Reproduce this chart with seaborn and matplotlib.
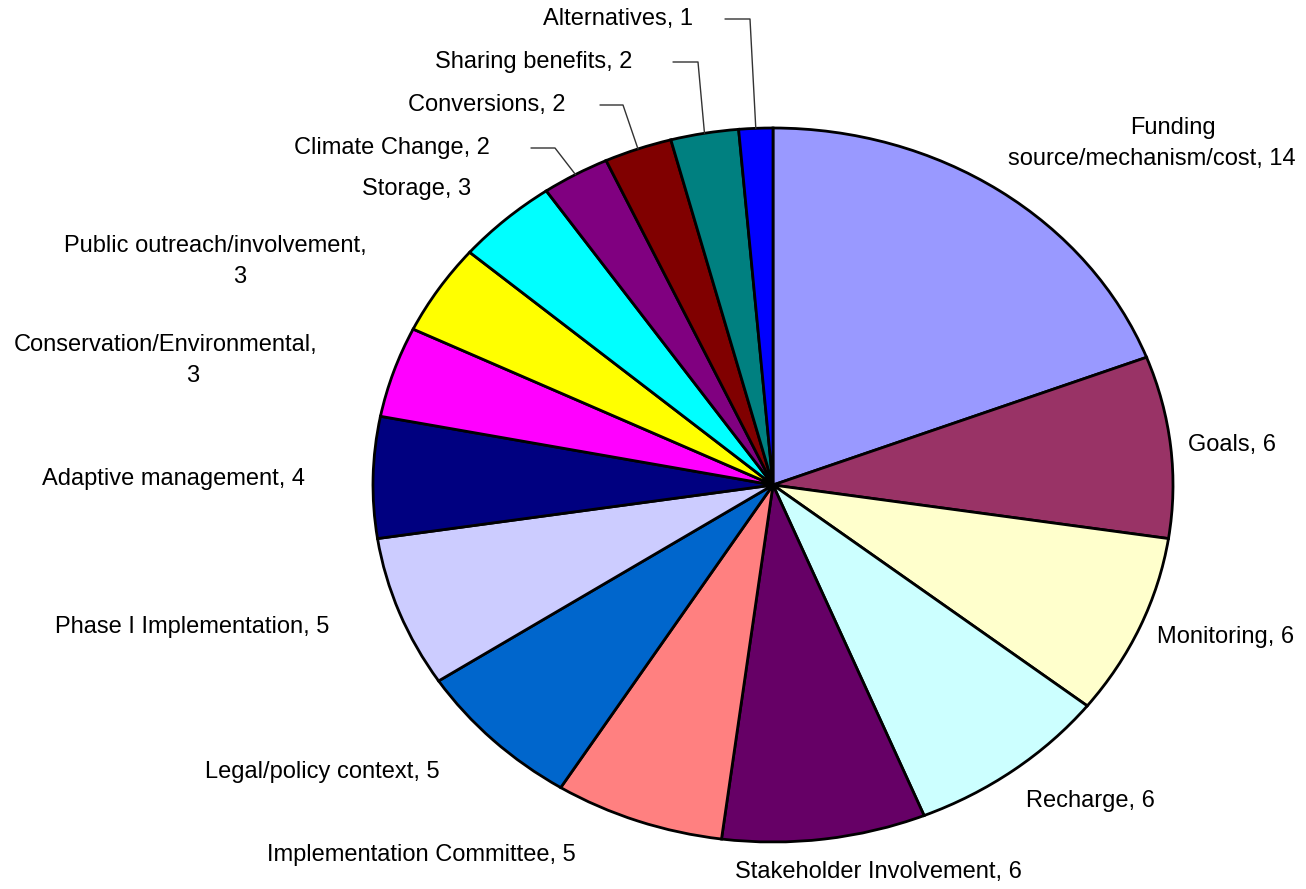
import numpy as np
import matplotlib
matplotlib.use("Agg")
import matplotlib.pyplot as plt
import seaborn as sns

# ---- data ----
categories = [
    "Funding source/mechanism/cost", "Goals", "Monitoring", "Recharge",
    "Stakeholder Involvement", "Implementation Committee", "Legal/policy context",
    "Phase I Implementation", "Adaptive management", "Conservation/Environmental",
    "Public outreach/involvement", "Storage", "Climate Change", "Conversions",
    "Sharing benefits", "Alternatives",
]
values = [14, 6, 6, 6, 6, 5, 5, 5, 4, 3, 3, 3, 2, 2, 2, 1]
colors = [
    "#9999FF", "#993366", "#FFFFCC", "#CCFFFF", "#660066", "#FF8080", "#0066CC",
    "#CCCCFF", "#000080", "#FF00FF", "#FFFF00", "#00FFFF", "#800080", "#800000",
    "#008080", "#0000FF",
]
# label lines (wrapping as in the reference)
label_lines = [
    ["Funding", "source/mechanism/cost, 14"], ["Goals, 6"], ["Monitoring, 6"],
    ["Recharge, 6"], ["Stakeholder Involvement, 6"], ["Implementation Committee, 5"],
    ["Legal/policy context, 5"], ["Phase I Implementation, 5"], ["Adaptive management, 4"],
    ["Conservation/Environmental,", "3"], ["Public outreach/involvement,", "3"],
    ["Storage, 3"], ["Climate Change, 2"], ["Conversions, 2"], ["Sharing benefits, 2"],
    ["Alternatives, 1"],
]

# ---- layout (pixel positions, top-left origin) ----
W, H = 1306, 889
CX, CY, RX, RY = 773, 485, 400, 357
label_pos = [
    [(1173, 128), (1152, 159)], [(1232, 445)], [(1226, 637)], [(1090, 801)],
    [(878, 872)], [(421, 855)], [(322, 772)], [(192, 627)], [(174, 479)],
    [(166, 345), (193, 376)], [(215, 246), (240, 277)], [(417, 189)],
    [(392, 148)], [(487, 105)], [(534, 62)], [(618, 19)],
]
# leader lines: index -> (start x, elbow x, y)
leaders = {12: (531, 555, 148), 13: (600, 623, 105), 14: (673, 698, 62), 15: (725, 750, 19)}

sns.set_theme(style="white")
plt.rcParams["font.family"] = ["Liberation Sans", "DejaVu Sans"]

fig = plt.figure(figsize=(W / 100, H / 100), dpi=100)
ax = fig.add_axes([(CX - RX) / W, (H - CY - RY) / H, 2 * RX / W, 2 * RY / H])
wedges, _ = ax.pie(values, colors=colors, startangle=90, counterclock=False,
                   wedgeprops=dict(edgecolor="black", linewidth=2))
ax.set_aspect("auto")
ax.set_xlim(-1, 1)
ax.set_ylim(-1, 1)
ax.axis("off")

def fig_xy(px, py):
    return px / W, 1 - py / H

for lines, poss in zip(label_lines, label_pos):
    for txt, (px, py) in zip(lines, poss):
        x, y = fig_xy(px, py)
        fig.text(x, y, txt, ha="center", va="center", fontsize=17, color="black")

inv = ax.transData.inverted()
for idx, (x0, x1, py) in leaders.items():
    w = wedges[idx]
    mid = np.deg2rad((w.theta1 + w.theta2) / 2)
    ex, ey = np.cos(mid), np.sin(mid)
    p0 = inv.transform((x0, H - py))
    p1 = inv.transform((x1, H - py))
    ax.plot([p0[0], p1[0], ex], [p0[1], p1[1], ey], color="#333333", lw=1, clip_on=False)

fig.savefig("out.png", dpi=100, facecolor="white")
